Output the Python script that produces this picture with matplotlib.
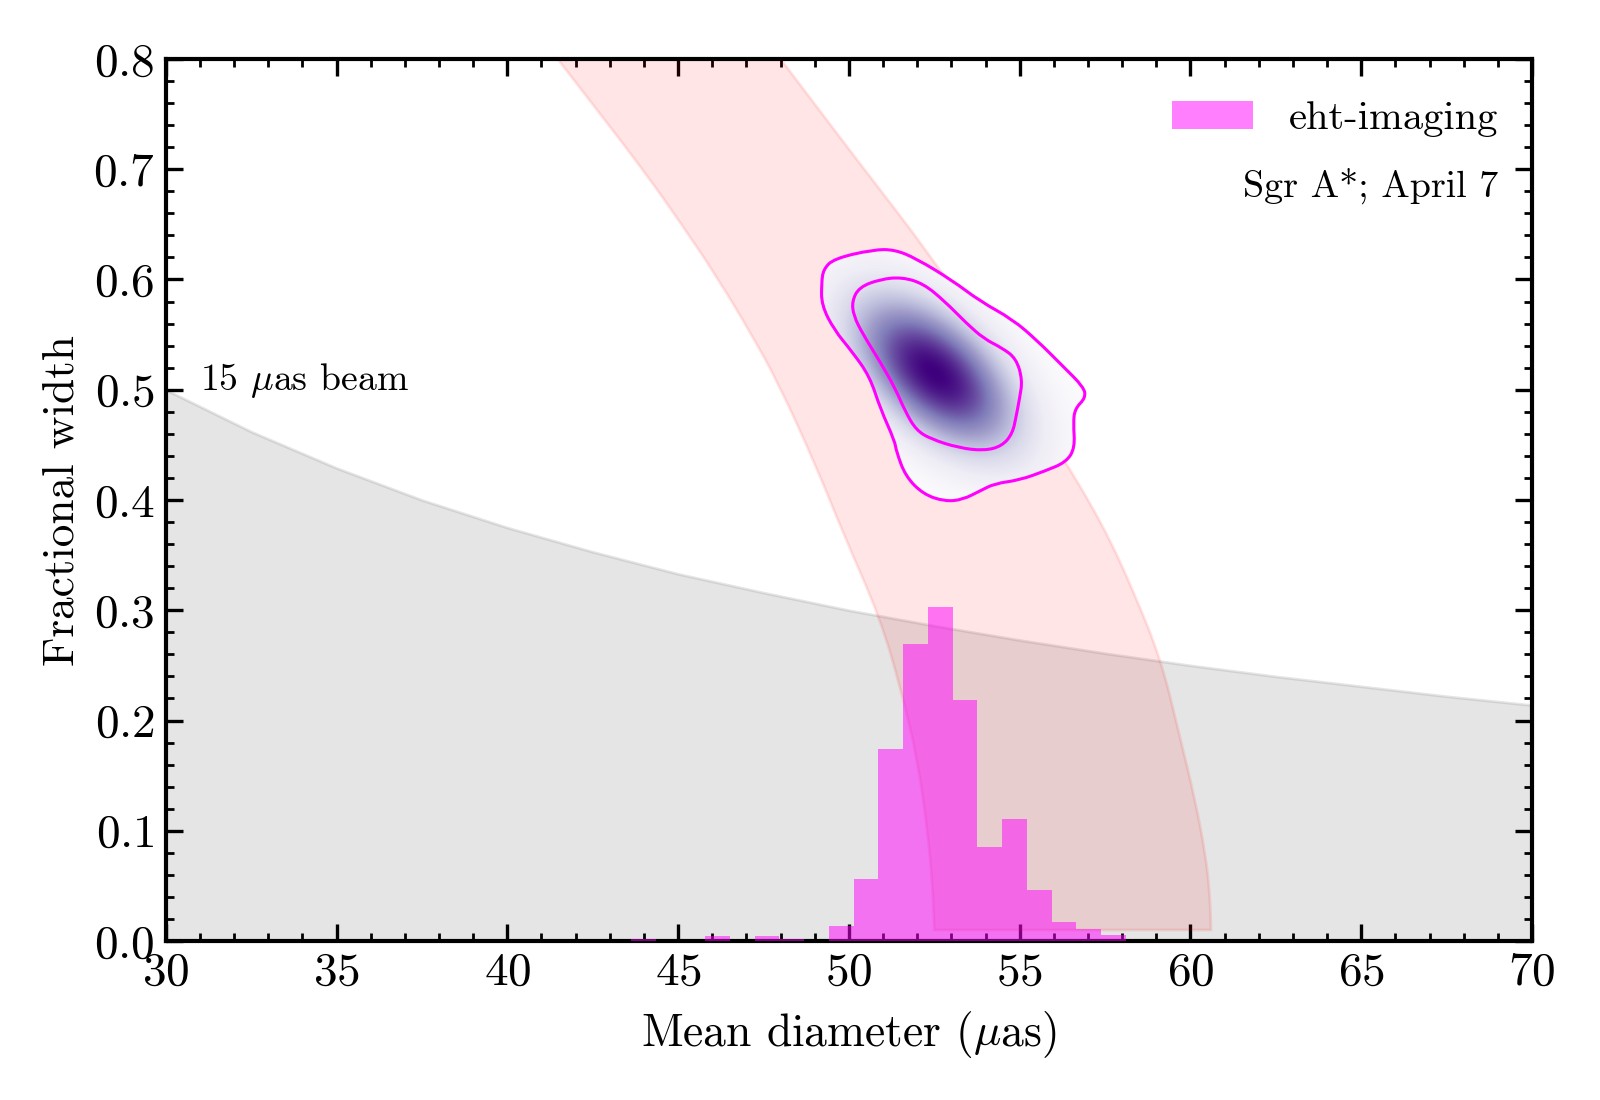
import numpy as np
import matplotlib
matplotlib.use("Agg")
import matplotlib.pyplot as plt
from matplotlib.patches import PathPatch, Patch
from matplotlib.path import Path
from matplotlib.ticker import MultipleLocator

plt.rcParams["font.family"] = ["cmr10", "DejaVu Serif"]
plt.rcParams["mathtext.fontset"] = "cm"
plt.rcParams["axes.formatter.use_mathtext"] = True

# 15 uas beam curve
beam_x = [30, 32.5, 35, 37.5, 40, 42.5, 45, 47.5, 50, 52.5, 55, 57.5, 60, 62.5, 65, 67.5, 70]
beam_y = [0.500, 0.462, 0.429, 0.400, 0.375, 0.353, 0.333, 0.316, 0.300,
          0.286, 0.273, 0.261, 0.250, 0.240, 0.231, 0.222, 0.214]

# pink band edges (top to bottom)
band_left_x = [41.47, 42.72, 44.03, 45.10, 46.12, 47.15, 47.93, 48.98, 49.87, 50.90,
               51.53, 52.02, 52.31, 52.45, 52.50]
band_left_y = [0.800, 0.750, 0.697, 0.650, 0.603, 0.550, 0.506, 0.435, 0.367, 0.294,
               0.228, 0.163, 0.098, 0.050, 0.010]
band_right_x = [48.00, 50.30, 52.39, 54.48, 56.10, 57.45, 58.38, 59.15, 59.67, 60.16,
                60.44, 60.56, 60.60, 60.60]
band_right_y = [0.800, 0.706, 0.622, 0.528, 0.447, 0.377, 0.314, 0.254, 0.188, 0.125,
                0.078, 0.046, 0.016, 0.010]

# histogram of mean diameter (density)
hist_edges = [43.62 + 0.7245 * i for i in range(21)]
hist_heights = [0.0018, 0.0, 0.0, 0.0045, 0.0, 0.0045, 0.0018, 0.0, 0.0136, 0.056,
                0.174, 0.269, 0.303, 0.219, 0.085, 0.111, 0.046, 0.0173, 0.011, 0.0055]

# 2D posterior contours
outer_x = [49.25, 49.57, 50.72, 51.34, 51.97, 53.01, 53.85, 54.79, 55.52, 56.25, 56.88,
           56.93, 56.62, 56.57, 56.62, 56.36, 55.73, 55.00, 54.27, 53.85, 53.33, 52.81,
           52.18, 51.66, 51.39, 51.34, 50.92, 50.61, 50.09, 49.57, 49.20, 49.20]
outer_y = [0.6092, 0.6190, 0.6271, 0.6271, 0.6190, 0.5995, 0.5801, 0.5639, 0.5444, 0.5218,
           0.5023, 0.4926, 0.4829, 0.4699, 0.4473, 0.4343, 0.4262, 0.4181, 0.4149, 0.4084,
           0.4003, 0.3987, 0.4052, 0.4214, 0.4440, 0.4537, 0.4829, 0.5121, 0.5347, 0.5542,
           0.5768, 0.5963]
inner_x = [50.09, 50.30, 50.92, 51.55, 52.18, 52.81, 53.43, 53.96, 54.48, 54.90, 55.08, 55.00,
           54.90, 54.79, 54.48, 53.96, 53.22, 52.39, 51.97, 51.66, 51.34, 50.92, 50.40, 50.14]
inner_y = [0.5801, 0.5930, 0.6002, 0.6021, 0.5963, 0.5801, 0.5606, 0.5461, 0.5380, 0.5283,
           0.5088, 0.4926, 0.4764, 0.4602, 0.4489, 0.4447, 0.4473, 0.4554, 0.4635, 0.4797,
           0.5023, 0.5250, 0.5509, 0.5671]

# shading blob: centre, widths (px) and tilt
blob_x, blob_y = 52.5, 0.515
blob_sig_major, blob_sig_minor = 66.0, 36.0
blob_angle = -42.0


def smooth_verts(xs, ys, closed):
    """Quadratic B-spline style path through the midpoints of the given vertices."""
    p = np.column_stack([xs, ys])
    verts, codes = [], []
    if closed:
        n = len(p)
        mids = (p + np.roll(p, -1, axis=0)) / 2
        verts.append(mids[-1]); codes.append(Path.MOVETO)
        for i in range(n):
            verts += [p[i], mids[i]]
            codes += [Path.CURVE3, Path.CURVE3]
    else:
        verts.append(p[0]); codes.append(Path.MOVETO)
        for i in range(1, len(p) - 1):
            verts += [p[i], (p[i] + p[i + 1]) / 2]
            codes += [Path.CURVE3, Path.CURVE3]
        verts.append(p[-1]); codes.append(Path.LINETO)
    return verts, codes


def main():
    fig = plt.figure(figsize=(8, 5.5), dpi=200)
    ax = fig.add_axes([0.1036, 0.1445, 0.8539, 0.8019])

    ax.fill_between(beam_x, 0, beam_y, color="gray", alpha=0.2, lw=1, zorder=1)
    ax.text(31.0, 0.500, r"15 $\mu$as beam", fontsize=13.6, ha="left", va="baseline")

    lv, lc = smooth_verts(band_left_x, band_left_y, closed=False)
    rv, rc = smooth_verts(band_right_x[::-1], band_right_y[::-1], closed=False)
    rc[0] = Path.LINETO
    band_path = Path(lv + rv + [lv[0]], lc + rc + [Path.CLOSEPOLY])
    ax.add_patch(PathPatch(band_path, facecolor="red", edgecolor="red", alpha=0.1,
                           lw=1, zorder=2))

    centers = [(hist_edges[i] + hist_edges[i + 1]) / 2 for i in range(len(hist_heights))]
    ax.hist(centers, bins=hist_edges, weights=hist_heights, color="magenta",
            alpha=0.5, zorder=3)

    # density shading clipped to outer contour
    gx = np.linspace(48.8, 57.3, 420)
    gy = np.linspace(0.39, 0.64, 320)
    X, Y = np.meshgrid(gx, gy)
    px = (X - blob_x) * 34.17
    py = (Y - blob_y) * 1102.5
    t = np.deg2rad(blob_angle)
    u = px * np.cos(t) + py * np.sin(t)
    v = -px * np.sin(t) + py * np.cos(t)
    F = np.exp(-0.5 * ((u / blob_sig_major) ** 2 + (v / blob_sig_minor) ** 2))
    im = ax.imshow(F, extent=[gx[0], gx[-1], gy[0], gy[-1]], origin="lower",
                   cmap="Purples", vmin=0, vmax=1.0, aspect="auto",
                   interpolation="bilinear", zorder=4)
    ov, oc = smooth_verts(outer_x, outer_y, closed=True)
    outer = PathPatch(Path(ov, oc), fill=False, edgecolor="magenta", lw=1.1, zorder=5)
    ax.add_patch(outer)
    im.set_clip_path(outer)
    iv, ic = smooth_verts(inner_x, inner_y, closed=True)
    ax.add_patch(PathPatch(Path(iv, ic), fill=False, edgecolor="magenta", lw=1.1, zorder=5))

    ax.set_xlim(30, 70)
    ax.set_ylim(0, 0.8)
    ax.xaxis.set_major_locator(MultipleLocator(5))
    ax.xaxis.set_minor_locator(MultipleLocator(1))
    ax.yaxis.set_major_locator(MultipleLocator(0.1))
    ax.yaxis.set_minor_locator(MultipleLocator(0.02))
    ax.tick_params(which="both", direction="in", top=True, right=True)
    ax.tick_params(which="major", length=6, width=1.2, labelsize=17, pad=4)
    ax.tick_params(which="minor", length=3, width=1.0)
    for sp in ax.spines.values():
        sp.set_linewidth(1.5)

    ax.set_xlabel(r"Mean diameter ($\mu$as)", fontsize=16.4, labelpad=5.5)
    ax.set_ylabel("Fractional width", fontsize=16.3, labelpad=3.8)

    handle = Patch(facecolor="magenta", alpha=0.5, edgecolor="none")
    ax.legend([handle], ["eht-imaging"], loc="upper right", frameon=False,
              fontsize=14.6, handlelength=2.0, handleheight=0.7, handletextpad=0.9,
              borderaxespad=0.5, bbox_to_anchor=(1.0022, 0.9942))
    ax.text(0.975, 0.8565, "Sgr A*; April 7", transform=ax.transAxes, fontsize=13.7,
            ha="right", va="center")

    fig.savefig("out.png", dpi=200)


if __name__ == "__main__":
    main()
